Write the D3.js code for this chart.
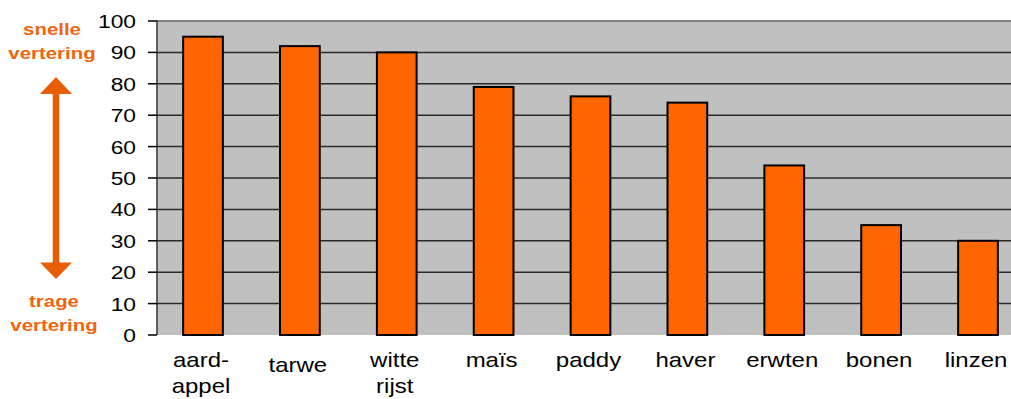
<!DOCTYPE html>
<html><head><meta charset="utf-8">
<script src="https://cdn.jsdelivr.net/npm/d3@7"></script>
<style>html,body{margin:0;padding:0;background:#fff;overflow:hidden}</style>
</head><body>
<svg id="c" width="1011" height="399"></svg>
<script>
const categories = [["aard-","appel"],["tarwe"],["witte","rijst"],["maïs"],["paddy"],["haver"],["erwten"],["bonen"],["linzen"]];
const values = [95, 92, 90, 79, 76, 74, 54, 35, 30];
const yTicks = [0,10,20,30,40,50,60,70,80,90,100];
const topLabel = ["snelle","vertering"];
const bottomLabel = ["trage","vertering"];

(function(){
const svg = d3.select("#c");
const pL = 157, pR = 1024, pT = 21, pB = 335;
const keys = categories.map((c,i)=>i);
const x = d3.scaleBand().domain(keys).range([pL,pR]).paddingInner(0.59).paddingOuter(0.27);
const y = d3.scaleLinear().domain([0,100]).range([pB,pT]);
const SX = 1.2;

svg.append("rect").attr("x",pL).attr("y",pT).attr("width",pR-pL).attr("height",pB-pT).attr("fill","#c0c0c0");
svg.append("g").selectAll("line").data(yTicks.filter(t=>t>0&&t<100)).join("line")
  .attr("x1",pL).attr("x2",pR).attr("y1",d=>y(d)).attr("y2",d=>y(d))
  .attr("stroke","#2a2a2a").attr("stroke-width",1.5);
svg.append("line").attr("x1",pL).attr("x2",pR).attr("y1",y(100)).attr("y2",y(100)).attr("stroke","#808080").attr("stroke-width",2);

svg.append("g").selectAll("rect").data(values).join("rect")
  .attr("x",(d,i)=>x(i)).attr("width",x.bandwidth())
  .attr("y",d=>y(d)).attr("height",d=>y(0)-y(d))
  .attr("fill","#ff6600").attr("stroke","#000").attr("stroke-width",2);

// y axis
const ax = svg.append("g");
ax.append("line").attr("x1",pL).attr("x2",pL).attr("y1",pT).attr("y2",pB).attr("stroke","#333").attr("stroke-width",1.5);
ax.selectAll("line.t").data(yTicks).join("line").attr("class","t")
  .attr("x1",148).attr("x2",pL).attr("y1",d=>y(d)).attr("y2",d=>y(d)).attr("stroke","#000").attr("stroke-width",1.5);
ax.selectAll("text").data(yTicks).join("text")
  .attr("transform",d=>`translate(136,${y(d)+7}) scale(${SX},1)`)
  .attr("text-anchor","end").attr("font-family","Liberation Sans, Arial, sans-serif").attr("font-size",19).attr("fill","#000")
  .text(d=>d);

// x labels
const xl = svg.append("g");
categories.forEach((lines,i)=>{
  const cx = x(i)+x.bandwidth()/2 - 2;
  lines.forEach((t,j)=>{
    const base = (lines.length===1 && t==="tarwe") ? 372 : 367;
    xl.append("text").attr("transform",`translate(${cx},${base + j*26}) scale(${SX},1)`)
      .attr("text-anchor","middle").attr("font-family","Liberation Sans, Arial, sans-serif").attr("font-size",20).attr("fill","#000").text(t);
  });
});

// annotation
const orange = "#f0650f";
const ann = svg.append("g");
[[topLabel,[35,59],52],[bottomLabel,[307,331],54]].forEach(([lines,ys,cx])=>{
  lines.forEach((t,j)=>{
    ann.append("text").attr("transform",`translate(${cx},${ys[j]}) scale(${SX},1)`)
      .attr("text-anchor","middle").attr("font-family","Liberation Sans, Arial, sans-serif").attr("font-weight","bold").attr("font-size",17).attr("fill",orange).text(t);
  });
});
const acx = 56, arrowColor = "#e85e06";
ann.append("rect").attr("x",acx-3.3).attr("y",92).attr("width",6.6).attr("height",172).attr("fill",arrowColor);
ann.append("path").attr("d",`M${acx},77 L${acx+16},94 L${acx-16},94 Z`).attr("fill",arrowColor);
ann.append("path").attr("d",`M${acx},279 L${acx+16},262.5 L${acx-16},262.5 Z`).attr("fill",arrowColor);
})();
</script>
</body></html>
